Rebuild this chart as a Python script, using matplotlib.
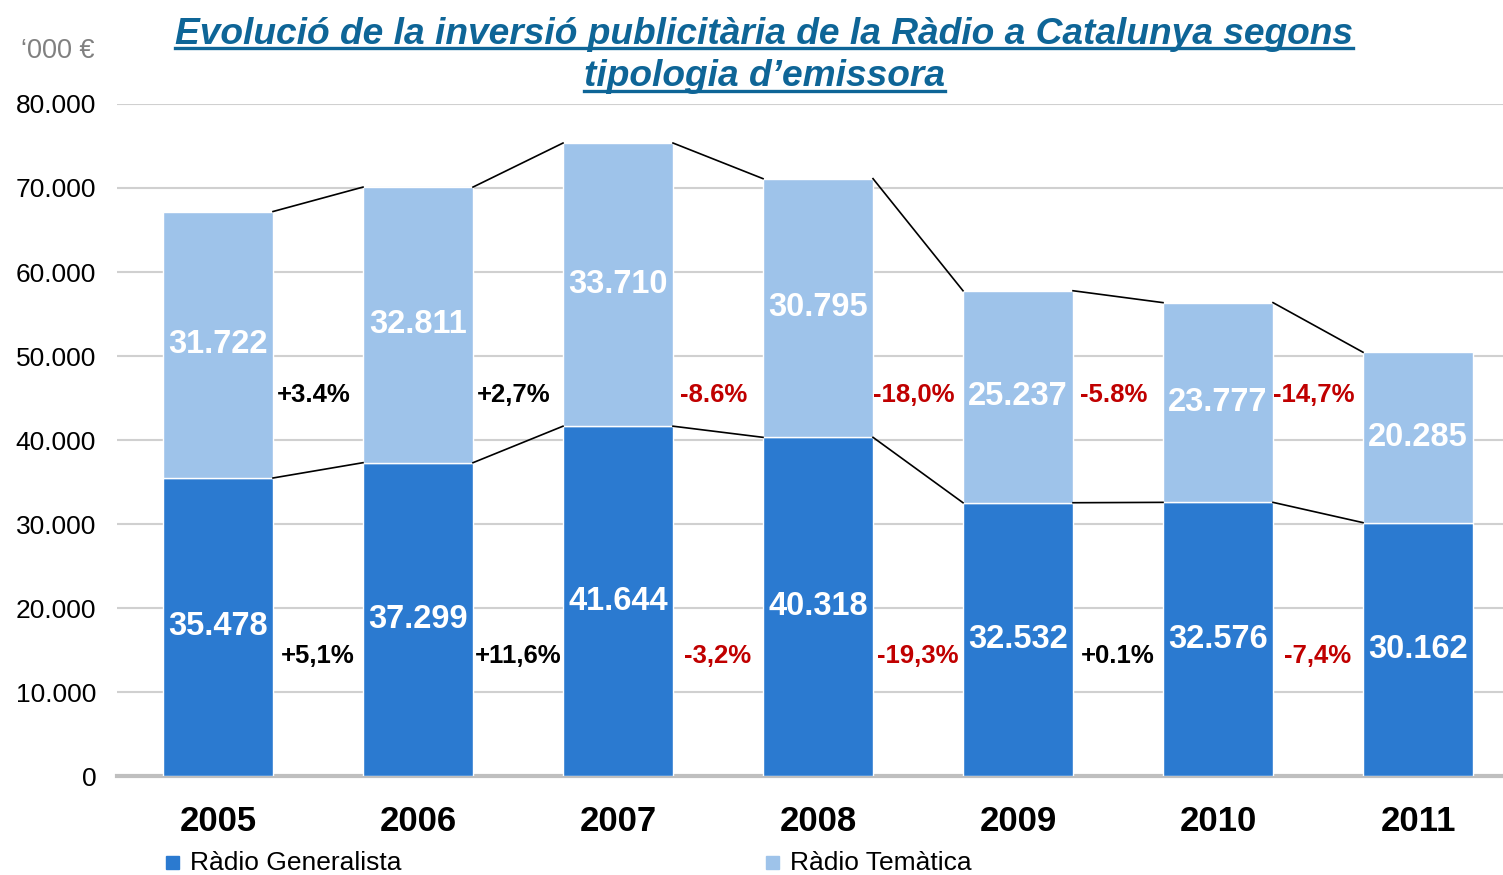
import matplotlib
matplotlib.use('Agg')
import matplotlib.pyplot as plt
from matplotlib.lines import Line2D
from matplotlib.patches import Rectangle

plt.rcParams['font.family'] = ['Liberation Sans', 'DejaVu Sans']

years = ['2005', '2006', '2007', '2008', '2009', '2010', '2011']
generalista = [35478, 37299, 41644, 40318, 32532, 32576, 30162]
tematica = [31722, 32811, 33710, 30795, 25237, 23777, 20285]
var_total = ['+3.4%', '+2,7%', '-8.6%', '-18,0%', '-5.8%', '-14,7%']
var_gen = ['+5,1%', '+11,6%', '-3,2%', '-19,3%', '+0.1%', '-7,4%']

c_gen = '#2B7AD0'
c_tem = '#9EC3EA'
c_title = '#0E6597'
c_neg = '#C00000'

fig = plt.figure(figsize=(15.03, 8.75), dpi=100)
ax = fig.add_axes([117 / 1503, 1 - 776 / 875, 1 - 117 / 1503, (776 - 104) / 875])

x = list(range(len(years)))
w = 0.55
totals = [g + t for g, t in zip(generalista, tematica)]

ax.bar(x, generalista, w, color=c_gen, edgecolor='white', linewidth=1, zorder=3)
ax.bar(x, tematica, w, bottom=generalista, color=c_tem, edgecolor='white', linewidth=1, zorder=3)

# value labels
for i in x:
    ax.text(i, generalista[i] / 2, f"{generalista[i]:,}".replace(',', '.'), ha='center', va='center',
            color='white', fontsize=23.5, fontweight='bold', zorder=5)
    ax.text(i, generalista[i] + tematica[i] / 2, f"{tematica[i]:,}".replace(',', '.'), ha='center',
            va='center', color='white', fontsize=23.5, fontweight='bold', zorder=5)

# connector lines
for i in x[:-1]:
    ax.plot([i + w / 2, i + 1 - w / 2], [totals[i], totals[i + 1]], color='black', lw=1.2, zorder=4)
    ax.plot([i + w / 2, i + 1 - w / 2], [generalista[i], generalista[i + 1]], color='black', lw=1.2, zorder=4)

# variation labels
for i in x[:-1]:
    ct = c_neg if var_total[i].startswith('-') else 'black'
    cg = c_neg if var_gen[i].startswith('-') else 'black'
    ax.text(i + 0.48, 45300, var_total[i], ha='center', va='center', color=ct, fontsize=18.5,
            fontweight='bold', zorder=5)
    ax.text(i + 0.5, 14300, var_gen[i], ha='center', va='center', color=cg, fontsize=18.5,
            fontweight='bold', zorder=5)

ax.set_xlim(-0.505, 6.425)
ax.set_ylim(0, 80000)
ax.set_yticks(range(0, 80001, 10000))
ax.set_yticklabels([f"{v:,}".replace(',', '.') for v in range(0, 80001, 10000)], fontsize=19)
ax.set_xticks(x)
ax.set_xticklabels(years, fontsize=25, fontweight='bold')
ax.tick_params(axis='both', length=0)
ax.tick_params(axis='x', pad=21)
ax.tick_params(axis='y', pad=15)
ax.grid(axis='y', color='#D0D0D0', lw=1.5, zorder=0)
for s in ['top', 'right', 'left']:
    ax.spines[s].set_visible(False)
ax.spines['bottom'].set_color('#BFBFBF')
ax.spines['bottom'].set_linewidth(3)
ax.spines['bottom'].set_zorder(2)

fig.text(58 / 1503, 1 - 51 / 875, "‘000 €", ha='center', va='center', color='#808080', fontsize=19.5)

# title with underline
t1 = fig.text(764 / 1503, 1 - 34 / 875, "Evolució de la inversió publicitària de la Ràdio a Catalunya segons",
              ha='center', va='center', color=c_title, fontsize=26.7, fontweight='bold', style='italic')
t2 = fig.text(764 / 1503, 1 - 77 / 875, "tipologia d’emissora",
              ha='center', va='center', color=c_title, fontsize=26.7, fontweight='bold', style='italic')
fig.canvas.draw()
r = fig.canvas.get_renderer()
for t in (t1, t2):
    bb = t.get_window_extent(r).transformed(fig.transFigure.inverted())
    yy = bb.y0 + 0.004
    fig.add_artist(Line2D([bb.x0, bb.x1], [yy, yy], color=c_title, lw=2.4, transform=fig.transFigure))

# legend
for lx, lab, col in [(166, 'Ràdio Generalista', c_gen), (766, 'Ràdio Temàtica', c_tem)]:
    fig.add_artist(Rectangle((lx / 1503, 1 - 869 / 875), 13 / 1503, 13 / 875, color=col,
                             transform=fig.transFigure))
    fig.text((lx + 24) / 1503, 1 - 863 / 875, lab, ha='left', va='center', fontsize=19)

fig.savefig('out.png', dpi=100)
